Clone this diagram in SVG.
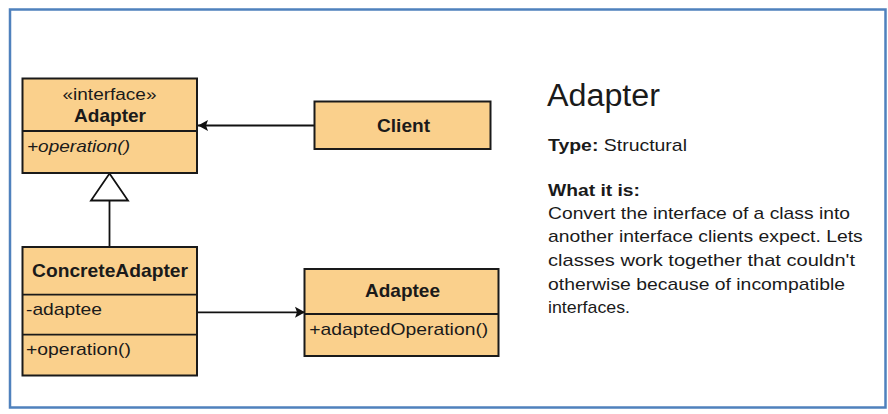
<svg xmlns="http://www.w3.org/2000/svg" width="888" height="414" viewBox="0 0 888 414">
<style>
.box{fill:#FAD08C;stroke:#1a1a1a;stroke-width:2}
.div{stroke:#1a1a1a;stroke-width:1.8}
.t{font-family:"Liberation Sans",Arial,sans-serif;fill:#1a1a1a}
.b{font-weight:bold}
.c{text-anchor:middle}
.con{stroke:#111;stroke-width:1.8;fill:none}
</style>
<defs>
<marker id="filled" markerUnits="userSpaceOnUse" markerWidth="12" markerHeight="14" refX="11" refY="7" orient="auto">
<path d="M1,1.5 L11,7 L1,12.5 L3,7 Z" fill="#111"/>
</marker>
</defs>
<rect x="10" y="9.5" width="875.5" height="398" fill="#fff" stroke="#4F81BD" stroke-width="2.5"/>
<g id="connectors">
<line class="con" x1="314" y1="125.5" x2="198" y2="125.5" marker-end="url(#filled)"/>
<line class="con" x1="109.5" y1="247" x2="109.5" y2="200.5"/>
<path d="M109.5,173.5 L128,200.5 L91,200.5 Z" fill="#fff" stroke="#111" stroke-width="1.8"/>
<line class="con" x1="197" y1="312.3" x2="305" y2="312.3" marker-end="url(#filled)"/>
</g>
<g id="adapter-interface">
<rect class="box" x="22.5" y="78.5" width="174.5" height="94.5"/>
<line class="div" x1="22.5" y1="131" x2="197" y2="131"/>
<text class="t c" x="109.5" y="99.5" font-size="16" textLength="94" lengthAdjust="spacingAndGlyphs">«interface»</text>
<text class="t c b" x="110" y="121.5" font-size="18.5" textLength="72" lengthAdjust="spacingAndGlyphs">Adapter</text>
<text class="t" x="27" y="152" font-size="17" font-style="italic" textLength="103" lengthAdjust="spacingAndGlyphs">+operation()</text>
</g>
<g id="client">
<rect class="box" x="314.5" y="101.5" width="176" height="47.5"/>
<text class="t c b" x="403.5" y="132.3" font-size="18.5" textLength="53" lengthAdjust="spacingAndGlyphs">Client</text>
</g>
<g id="concrete-adapter">
<rect class="box" x="22.5" y="247" width="174.5" height="128.5"/>
<line class="div" x1="22.5" y1="294.7" x2="197" y2="294.7"/>
<line class="div" x1="22.5" y1="334.7" x2="197" y2="334.7"/>
<text class="t c b" x="110" y="276.7" font-size="18.5" textLength="156" lengthAdjust="spacingAndGlyphs">ConcreteAdapter</text>
<text class="t" x="26" y="315" font-size="17" textLength="76" lengthAdjust="spacingAndGlyphs">-adaptee</text>
<text class="t" x="26" y="355" font-size="17" textLength="105" lengthAdjust="spacingAndGlyphs">+operation()</text>
</g>
<g id="adaptee">
<rect class="box" x="304.5" y="269" width="194" height="87"/>
<line class="div" x1="304.5" y1="314" x2="498.5" y2="314"/>
<text class="t c b" x="402.5" y="296.7" font-size="18.5" textLength="75" lengthAdjust="spacingAndGlyphs">Adaptee</text>
<text class="t" x="309.3" y="335" font-size="17" textLength="179" lengthAdjust="spacingAndGlyphs">+adaptedOperation()</text>
</g>
<g id="description">
<text class="t" x="547" y="106" font-size="31" fill="#222" textLength="113" lengthAdjust="spacingAndGlyphs">Adapter</text>
<text class="t" x="548" y="151" font-size="17" textLength="139" lengthAdjust="spacingAndGlyphs"><tspan class="b">Type:</tspan> Structural</text>
<text class="t b" x="548" y="196" font-size="17" textLength="92" lengthAdjust="spacingAndGlyphs">What it is:</text>
<text class="t" x="548" y="218.5" font-size="17" textLength="302" lengthAdjust="spacingAndGlyphs">Convert the interface of a class into</text>
<text class="t" x="548" y="242" font-size="17" textLength="314.7" lengthAdjust="spacingAndGlyphs">another interface clients expect. Lets</text>
<text class="t" x="548" y="266" font-size="17" textLength="307" lengthAdjust="spacingAndGlyphs">classes work together that couldn't</text>
<text class="t" x="548" y="290" font-size="17" textLength="297" lengthAdjust="spacingAndGlyphs">otherwise because of incompatible</text>
<text class="t" x="548" y="313.3" font-size="17" textLength="82" lengthAdjust="spacingAndGlyphs">interfaces.</text>
</g>
</svg>
